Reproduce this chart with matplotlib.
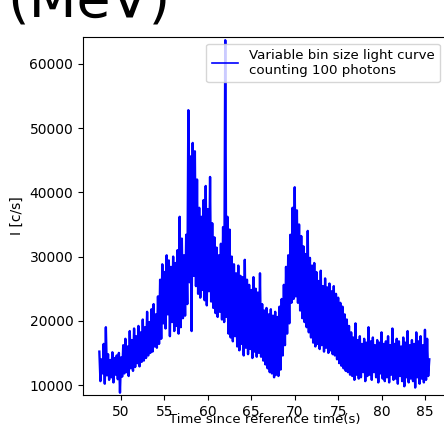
import numpy as np
import matplotlib.pyplot as plt

# --------------------------
# light curve (variable bins, 100 photons each)
# --------------------------
t_start = 47.5
t_step = 0.125

# count rate in units of 1000 c/s, 8 bins per row (one second)
rate_k = [
    15.2, 10.6, 14.0, 11.8, 16.4, 10.2, 19.0, 11.5,
    14.8, 10.8, 13.9, 11.2, 15.1, 10.4, 14.2, 11.6,
    14.6, 10.9, 15.0, 8.8, 14.3, 11.3, 16.2, 11.8,
    17.2, 12.0, 16.0, 11.4, 18.4, 12.6, 17.0, 12.2,
    18.8, 12.8, 17.6, 13.4, 19.2, 12.9, 18.2, 13.6,
    20.2, 13.8, 19.0, 14.2, 21.4, 14.6, 19.8, 15.0,
    21.8, 15.2, 22.6, 16.0, 21.0, 15.8, 23.8, 16.4,
    26.4, 17.2, 28.8, 19.6, 27.6, 18.8, 30.2, 21.0,
    29.4, 17.6, 28.4, 19.8, 30.0, 18.4, 29.0, 19.2,
    31.0, 18.0, 36.2, 19.0, 32.8, 20.4, 30.2, 20.8,
    33.4, 22.6, 52.8, 26.0, 45.6, 18.4, 47.7, 27.0,
    46.4, 25.4, 42.0, 24.2, 37.6, 23.6, 36.2, 24.8,
    38.8, 23.2, 41.0, 22.4, 37.4, 24.6, 42.4, 23.0,
    35.2, 22.0, 33.0, 21.2, 31.4, 20.6, 30.2, 21.4,
    32.0, 20.2, 34.6, 19.8, 63.7, 20.6, 36.2, 18.0,
    34.2, 17.4, 30.0, 16.8, 28.8, 17.6, 27.4, 16.0,
    28.6, 15.4, 27.0, 16.4, 26.8, 14.6, 29.5, 15.8,
    26.4, 14.8, 25.6, 15.6, 24.8, 14.2, 26.8, 15.2,
    25.0, 14.4, 24.4, 15.0, 27.4, 14.4, 22.6, 13.8,
    21.6, 13.2, 22.0, 12.6, 21.0, 12.0, 21.8, 11.8,
    20.8, 11.2, 21.4, 11.6, 20.6, 11.4, 22.2, 12.4,
    23.4, 14.6, 25.6, 16.2, 28.4, 18.0, 30.2, 19.6,
    33.4, 22.8, 37.6, 23.4, 40.8, 23.8, 37.2, 22.8,
    35.0, 21.6, 33.2, 20.4, 31.6, 19.8, 30.4, 19.0,
    34.0, 18.2, 29.8, 17.4, 28.6, 16.6, 29.0, 16.0,
    27.6, 16.4, 26.2, 15.6, 27.8, 16.2, 25.4, 15.2,
    26.6, 15.8, 25.2, 15.0, 25.8, 15.4, 24.6, 14.8,
    25.4, 14.6, 24.2, 14.0, 23.6, 13.4, 22.8, 13.0,
    22.2, 12.6, 21.0, 12.2, 20.2, 12.0, 19.2, 11.6,
    18.2, 11.4, 17.4, 10.8, 19.6, 11.6, 17.0, 11.0,
    17.6, 11.2, 16.4, 12.0, 17.2, 10.6, 16.6, 11.4,
    19.0, 11.6, 16.8, 10.8, 17.4, 12.0, 16.2, 11.2,
    17.0, 10.4, 16.6, 11.8, 18.2, 11.0, 16.4, 10.6,
    16.8, 11.2, 17.6, 10.4, 16.2, 11.6, 18.8, 10.8,
    16.4, 11.0, 17.2, 10.2, 16.8, 11.4, 16.0, 10.6,
    17.4, 9.8, 16.6, 11.2, 18.4, 10.4, 16.2, 11.0,
    17.0, 10.6, 16.4, 9.6, 18.2, 11.2, 16.8, 10.2,
    17.6, 11.0, 16.2, 10.4, 18.6, 10.8, 17.2, 11.4,
    14.0,
]

rate = np.array(rate_k) * 1000
time = t_start + t_step * np.arange(len(rate))

x_ticks = [50, 55, 60, 65, 70, 75, 80, 85]
y_ticks = [10000, 20000, 30000, 40000, 50000, 60000]

# --------------------------
# plotting
# --------------------------
fig = plt.figure(figsize=(4.44, 4.32), dpi=100)
ax = fig.add_axes([0.187, 0.0856, 0.819, 0.8288])

ax.plot(time, rate, color='blue', linewidth=1.7,
        label='Variable bin size light curve\ncounting 100 photons')

ax.set_xlim(45.62, 87.5)
ax.set_ylim(8440, 64200)
ax.set_xticks(x_ticks)
ax.set_yticks(y_ticks)

ax.set_xlabel('Time since reference time(s)', fontsize=9.5, labelpad=-4)
ax.set_ylabel('I [c/s]')
leg = ax.legend(loc='upper right', fontsize=9.6)
for line in leg.get_lines():
    line.set_linewidth(1.2)

# energy band header, partly off the top of the figure
fig.text(89 / 444, 1 - 17 / 432, '(MeV)', fontsize=40,
         ha='center', va='baseline')

fig.savefig('out.png', dpi=100)
